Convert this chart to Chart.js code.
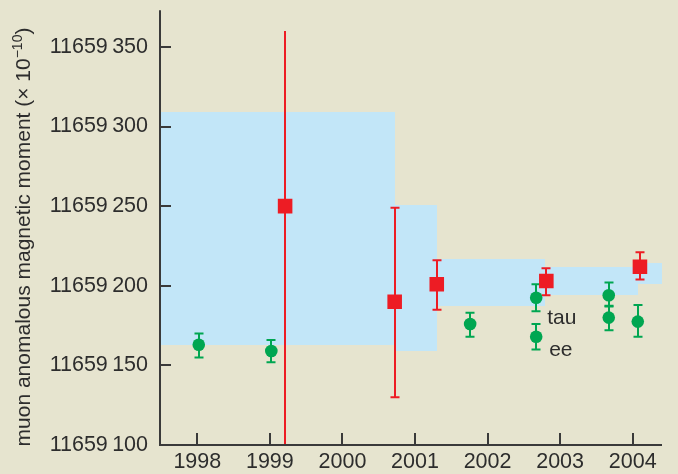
<!DOCTYPE html>
<html>
<head>
<meta charset="utf-8">
<script src="https://cdn.jsdelivr.net/npm/chart.js@4.4.1/dist/chart.umd.min.js"></script>
<style>
  html, body { margin: 0; padding: 0; background: #e6e4cf; }
  canvas { display: block; }
</style>
</head>
<body>
<canvas id="chart" width="678" height="474"></canvas>
<script>
const xTicks = [1998, 1999, 2000, 2001, 2002, 2003, 2004];
const yTicks = [11659100, 11659150, 11659200, 11659250, 11659300, 11659350];

// measurements (red squares)
const expYears = [1999.21, 2000.72, 2001.30, 2002.81, 2004.10];
const expValues = [11659250, 11659190, 11659201, 11659203, 11659212];
const expLow = [11659100, 11659130, 11659185, 11659194, 11659204];
const expHigh = [11659360, 11659249, 11659216, 11659211, 11659221];
const expCaps = [false, true, true, true, true];

// theory predictions (green circles)
const thYears = [1998.02, 1999.02, 2001.76, 2002.67, 2002.67, 2003.67, 2003.67, 2004.07];
const thValues = [11659163, 11659159, 11659176, 11659192.5, 11659168, 11659194, 11659180, 11659177.5];
const thLow = [11659155, 11659152, 11659168, 11659184, 11659160, 11659187, 11659172, 11659168];
const thHigh = [11659170, 11659166, 11659183, 11659201, 11659176, 11659202, 11659187.5, 11659188];

// world average band
const bandStart = [1997.4, 2000.72, 2001.31, 2002.79, 2004.07];
const bandEnd = [2000.72, 2001.31, 2002.79, 2004.07, 2004.5];
const bandLow = [11659163, 11659159, 11659187, 11659194, 11659201];
const bandHigh = [11659309, 11659251, 11659217, 11659212, 11659214];

const paper = '#e6e4cf';
const red = '#ed1c24';
const green = '#00a651';
const blue = '#c2e6f8';
const ink = '#2d2d2d';
const font = '"Liberation Sans", Arial, sans-serif';

function drawErrors(ctx, x, y, xs, lo, hi, color, caps) {
    ctx.strokeStyle = color;
    ctx.lineWidth = 2;
    xs.forEach((v, i) => {
        const px = Math.round(x.getPixelForValue(v));
        const y0 = y.getPixelForValue(lo[i]);
        const y1 = y.getPixelForValue(hi[i]);
        ctx.beginPath();
        ctx.moveTo(px, y0);
        ctx.lineTo(px, y1);
        if (!caps || caps[i]) {
            ctx.moveTo(px - 4.5, y0);
            ctx.lineTo(px + 4.5, y0);
            ctx.moveTo(px - 4.5, y1);
            ctx.lineTo(px + 4.5, y1);
        }
        ctx.stroke();
    });
}

const backdrop = {
    id: 'backdrop',
    beforeDraw(chart) {
        const ctx = chart.ctx;
        ctx.save();
        ctx.fillStyle = paper;
        ctx.fillRect(0, 0, chart.width, chart.height);
        ctx.restore();
    },
    beforeDatasetsDraw(chart) {
        const {ctx, chartArea, scales: {x, y}} = chart;
        ctx.save();
        ctx.beginPath();
        ctx.rect(chartArea.left, chartArea.top, chartArea.width, chartArea.height);
        ctx.clip();
        ctx.fillStyle = blue;
        bandStart.forEach((s, i) => {
            const x0 = Math.round(x.getPixelForValue(s));
            const x1 = Math.round(x.getPixelForValue(bandEnd[i]));
            const y0 = Math.round(y.getPixelForValue(bandHigh[i]));
            const y1 = Math.round(y.getPixelForValue(bandLow[i]));
            ctx.fillRect(x0, y0, x1 - x0, y1 - y0);
        });
        drawErrors(ctx, x, y, expYears, expLow, expHigh, red, expCaps);
        drawErrors(ctx, x, y, thYears, thLow, thHigh, green);
        ctx.restore();
    },
    afterDatasetsDraw(chart) {
        const {ctx, chartArea, scales: {x, y}} = chart;
        ctx.save();
        // axes with inward ticks
        ctx.strokeStyle = '#3a3a3a';
        ctx.lineWidth = 2;
        ctx.beginPath();
        ctx.moveTo(chartArea.left, chartArea.top);
        ctx.lineTo(chartArea.left, chartArea.bottom);
        ctx.lineTo(chartArea.right, chartArea.bottom);
        yTicks.slice(1).forEach(v => {
            const py = Math.round(y.getPixelForValue(v));
            ctx.moveTo(chartArea.left, py);
            ctx.lineTo(chartArea.left + 11, py);
        });
        xTicks.forEach(v => {
            const px = Math.round(x.getPixelForValue(v));
            ctx.moveTo(px, chartArea.bottom);
            ctx.lineTo(px, chartArea.bottom - 12);
        });
        ctx.stroke();

        // labels beside the two 2002 theory points
        ctx.fillStyle = ink;
        ctx.font = '21px ' + font;
        ctx.textBaseline = 'alphabetic';
        ctx.textAlign = 'left';
        [{text: 'tau', i: 3, dx: 11, dy: 26}, {text: 'ee', i: 4, dx: 13, dy: 19}].forEach(l => {
            ctx.fillText(l.text, x.getPixelForValue(thYears[l.i]) + l.dx, y.getPixelForValue(thValues[l.i]) + l.dy);
        });

        // y axis title with superscript
        const main = 'muon anomalous magnetic moment (\u00d7 10';
        const sup = '\u221210';
        const tail = ')';
        ctx.font = '21px ' + font;
        const wMain = ctx.measureText(main).width;
        const wTail = ctx.measureText(tail).width;
        ctx.font = '14px ' + font;
        const wSup = ctx.measureText(sup).width;
        const total = wMain + wSup + wTail;
        ctx.translate(30, 237);
        ctx.rotate(-Math.PI / 2);
        let cx = -total / 2;
        ctx.font = '21px ' + font;
        ctx.fillText(main, cx, 0);
        cx += wMain;
        ctx.font = '14px ' + font;
        ctx.fillText(sup, cx, -8);
        cx += wSup;
        ctx.font = '21px ' + font;
        ctx.fillText(tail, cx, 0);
        ctx.restore();
    }
};

new Chart(document.getElementById('chart'), {
    type: 'scatter',
    data: {
        datasets: [
            {
                label: 'measurement',
                data: expYears.map((v, i) => ({x: v, y: expValues[i]})),
                pointStyle: 'rect',
                pointRadius: 10.3,
                backgroundColor: red,
                borderWidth: 0
            },
            {
                label: 'theory',
                data: thYears.map((v, i) => ({x: v, y: thValues[i]})),
                pointStyle: 'circle',
                pointRadius: 6.3,
                backgroundColor: green,
                borderWidth: 0
            }
        ]
    },
    options: {
        responsive: false,
        animation: false,
        devicePixelRatio: 1,
        layout: { padding: { top: 8, right: 16, left: 0, bottom: 0 } },
        plugins: {
            legend: { display: false },
            tooltip: { enabled: false }
        },
        scales: {
            x: {
                type: 'linear',
                min: 1997.486,
                max: 2004.404,
                afterBuildTicks: scale => { scale.ticks = xTicks.map(v => ({value: v})); },
                afterFit: scale => { scale.height = 29; scale.paddingLeft = 0; scale.paddingRight = 0; },
                grid: { display: false, drawTicks: false },
                border: { display: false },
                ticks: {
                    padding: 4,
                    color: ink,
                    font: { family: font, size: 21.5 },
                    maxRotation: 0,
                    callback: v => String(v)
                }
            },
            y: {
                type: 'linear',
                min: 11659100,
                max: 11659373,
                afterBuildTicks: scale => { scale.ticks = yTicks.map(v => ({value: v})); },
                afterFit: scale => { scale.width = 160; scale.paddingTop = 0; scale.paddingBottom = 0; },
                grid: { display: false, drawTicks: false },
                border: { display: false },
                ticks: {
                    padding: 12,
                    color: ink,
                    font: { family: font, size: 21.5 },
                    callback: v => { const s = String(v); return s.slice(0, 5) + '\u2009' + s.slice(5); }
                }
            }
        }
    },
    plugins: [backdrop]
});
</script>
</body>
</html>
